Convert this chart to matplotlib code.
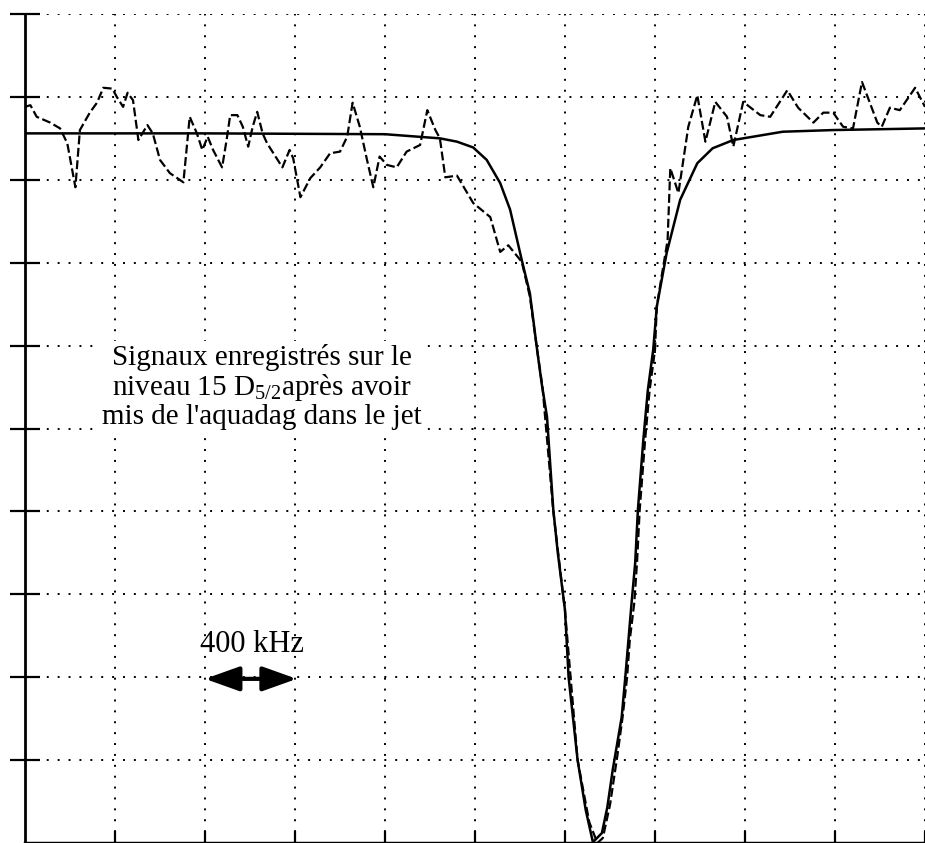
import matplotlib
matplotlib.use("Agg")
import matplotlib.pyplot as plt

plt.rcParams['font.family'] = ['Liberation Serif', 'DejaVu Serif']
plt.rcParams['mathtext.fontset'] = 'custom'
plt.rcParams['mathtext.rm'] = 'Liberation Serif'
plt.rcParams['mathtext.it'] = 'Liberation Serif:italic'

# grid units: x and y in screen divisions (1 division in x = 400 kHz)
fit_x = [0.0, 2.0, 4.0, 4.61, 4.80, 4.98, 5.13, 5.28, 5.39, 5.52, 5.61, 5.69, 5.74,
         5.80, 5.87, 5.92, 6.00, 6.04, 6.14, 6.23, 6.31, 6.41, 6.47, 6.53, 6.63,
         6.67, 6.74, 6.78, 6.81, 6.87, 6.92, 6.98, 7.02, 7.13, 7.28, 7.47, 7.64,
         7.87, 8.09, 8.42, 8.98, 10.0]
fit_y = [8.56, 8.56, 8.55, 8.50, 8.46, 8.39, 8.24, 7.96, 7.64, 7.03, 6.63, 5.95, 5.55,
         5.14, 4.02, 3.50, 2.81, 2.00, 1.00, 0.40, 0.01, 0.12, 0.43, 0.88, 1.52,
         2.00, 2.90, 3.38, 4.02, 4.86, 5.46, 5.95, 6.47, 7.12, 7.76, 8.20, 8.38,
         8.48, 8.52, 8.58, 8.60, 8.62]

sig_x = [0.0, 0.06, 0.13, 0.28, 0.39, 0.47, 0.56, 0.61, 0.72, 0.80, 0.87, 0.97, 1.02,
         1.09, 1.14, 1.20, 1.26, 1.36, 1.42, 1.50, 1.61, 1.76, 1.83, 1.91, 1.97,
         2.03, 2.09, 2.19, 2.24, 2.28, 2.36, 2.42, 2.48, 2.53, 2.58, 2.64, 2.69,
         2.86, 2.94, 2.98, 3.06, 3.17, 3.28, 3.39, 3.50, 3.58, 3.64, 3.72, 3.80,
         3.87, 3.94, 4.02, 4.13, 4.24, 4.39, 4.47, 4.56, 4.61, 4.67, 4.80, 4.98,
         5.17, 5.28, 5.37, 5.52, 5.61, 5.69, 5.75, 5.87, 6.00, 6.14, 6.27, 6.36,
         6.42, 6.50, 6.58, 6.64, 6.69, 6.72, 6.77, 6.80, 6.83, 6.89, 6.94, 7.00,
         7.02, 7.08, 7.14, 7.17, 7.26, 7.37, 7.47, 7.56, 7.67, 7.80, 7.87, 7.98,
         8.17, 8.28, 8.47, 8.59, 8.76, 8.87, 8.98, 9.09, 9.20, 9.30, 9.47, 9.52,
         9.61, 9.72, 9.89, 10.0]
sig_y = [8.88, 8.90, 8.76, 8.69, 8.62, 8.44, 7.91, 8.60, 8.81, 8.93, 9.11, 9.10, 9.00,
         8.88, 9.05, 8.96, 8.48, 8.66, 8.56, 8.24, 8.08, 7.97, 8.76, 8.56, 8.36,
         8.52, 8.36, 8.15, 8.48, 8.78, 8.78, 8.64, 8.40, 8.64, 8.82, 8.56, 8.44,
         8.15, 8.36, 8.26, 7.79, 8.02, 8.15, 8.32, 8.34, 8.52, 8.93, 8.64, 8.24,
         7.91, 8.28, 8.18, 8.15, 8.34, 8.42, 8.84, 8.60, 8.50, 8.03, 8.05, 7.72,
         7.55, 7.13, 7.21, 7.01, 6.59, 5.95, 5.50, 4.00, 2.80, 1.00, 0.25, 0.00,
         0.06, 0.46, 1.04, 1.52, 2.00, 2.45, 2.90, 3.38, 4.02, 4.86, 5.46, 5.95,
         6.47, 6.88, 7.27, 8.14, 7.84, 8.64, 9.02, 8.46, 8.94, 8.76, 8.40, 8.94,
         8.78, 8.76, 9.08, 8.87, 8.69, 8.81, 8.81, 8.64, 8.62, 9.18, 8.69, 8.64,
         8.87, 8.84, 9.11, 8.88]

fig = plt.figure(figsize=(9.25, 8.43), dpi=100)
ax = fig.add_axes([25 / 925, 0.0, 900 / 925, 829 / 843])

ax.plot(fit_x, fit_y, color='black', lw=1.8, solid_joinstyle='round')
ax.plot(sig_x, sig_y, color='black', lw=1.6, linestyle=(0, (4, 1.6)))

ax.set_xlim(0, 10)
ax.set_ylim(0, 10)
ax.set_xticks(range(1, 11))
ax.set_yticks(range(1, 11))
ax.set_xticklabels([])
ax.set_yticklabels([])
ax.grid(True, color='black', linestyle=(0, (1, 4.6)), lw=1.4)
ax.tick_params(axis='y', direction='inout', length=21, width=1.6)
ax.tick_params(axis='x', direction='in', length=9, width=1.6)
for s in ['top', 'right']:
    ax.spines[s].set_visible(False)
ax.spines['left'].set_linewidth(2)
ax.spines['bottom'].set_linewidth(2.5)

ax.text(2.63, 5.50,
        "Signaux enregistrés sur le\nniveau 15 D$_{\\mathit{5/2}}$après avoir\nmis de l'aquadag dans le jet",
        ha='center', va='center', fontsize=21, linespacing=1.05,
        bbox=dict(facecolor='white', edgecolor='none', pad=2))

ax.text(2.52, 2.40, "400 kHz", ha='center', va='center', fontsize=22)
ax.annotate('', xy=(3.02, 1.98), xytext=(2.0, 1.98),
            arrowprops=dict(arrowstyle='<|-|>,head_length=1.4,head_width=0.5',
                            lw=3, color='black', mutation_scale=15,
                            shrinkA=0, shrinkB=0))

fig.savefig("out.png", dpi=100, facecolor='white')
